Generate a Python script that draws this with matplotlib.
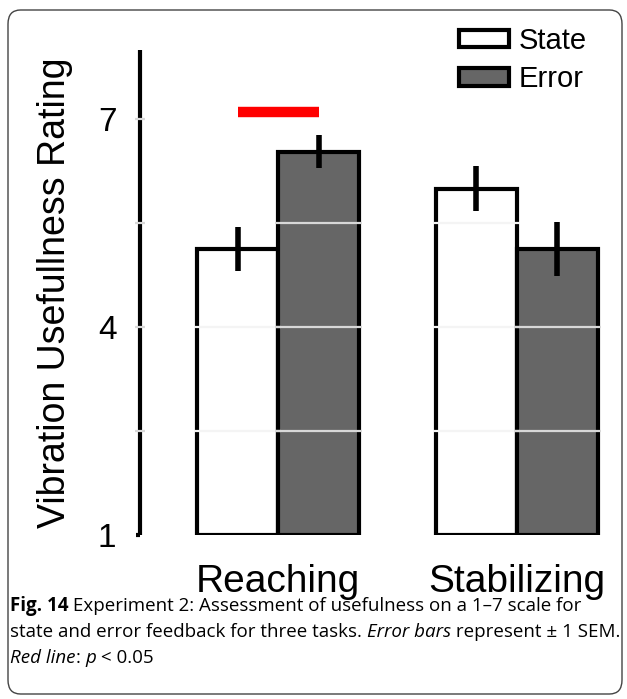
import matplotlib
matplotlib.use("Agg")
import matplotlib.pyplot as plt
from matplotlib.patches import Patch, FancyBboxPatch

# ratings per task (mean and SEM)
tasks = ["Reaching", "Stabilizing"]
state_mean = [5.13, 6.00]
state_sem = [0.32, 0.33]
error_mean = [6.53, 5.13]
error_sem = [0.24, 0.39]
grid_levels = [2.5, 4, 5.5, 7]
y_ticks = [1, 4, 7]
sig_level = 7.1  # red line over significant pairs
sig_tasks = [0]

plt.rcParams["font.family"] = ["Liberation Sans", "DejaVu Sans"]

fig = plt.figure(figsize=(6.27, 6.99), dpi=100)
W, H = 627, 699
ax = fig.add_axes([140 / W, (H - 535) / H, (612 - 140) / W, 485 / H])

width = 0.34
xs = list(range(len(tasks)))
xs_state = [x - width / 2 for x in xs]
xs_error = [x + width / 2 for x in xs]

ax.bar(xs_state, [m - 1 for m in state_mean], width, bottom=1,
       color="white", edgecolor="black", linewidth=3, zorder=2)
ax.bar(xs_error, [m - 1 for m in error_mean], width, bottom=1,
       color="#666666", edgecolor="black", linewidth=3, zorder=2)
ax.errorbar(xs_state, state_mean, yerr=state_sem, fmt="none",
            ecolor="black", elinewidth=4, capsize=0, zorder=3)
ax.errorbar(xs_error, error_mean, yerr=error_sem, fmt="none",
            ecolor="black", elinewidth=4, capsize=0, zorder=3)

for i in sig_tasks:
    ax.plot([xs_state[i], xs_error[i]], [sig_level, sig_level],
            color="#ff0000", linewidth=7.5, solid_capstyle="butt", zorder=3)

ax.set_xlim(-0.58, 1.40)
ax.set_ylim(1, 8)

# light grid lines: only show where they cross the axis line and the bars
grid_color = "#d8d8d8"
ax.hlines(grid_levels, -0.60, -0.56, colors=grid_color, linewidth=1.6,
          zorder=5, clip_on=False)
for xb, tops, col in [(xs_state, state_mean, "#f4f4f4"),
                      (xs_error, error_mean, grid_color)]:
    for x, top in zip(xb, tops):
        levels = [g for g in grid_levels if g < top]
        if levels:
            ax.hlines(levels, x - width / 2 - 0.012, x + width / 2 + 0.012,
                      colors=col, linewidth=1.6, zorder=5)

for s in ["top", "right", "bottom"]:
    ax.spines[s].set_visible(False)
ax.spines["left"].set_linewidth(3)
ax.spines["left"].set_capstyle("butt")
# small foot at the bottom of the axis line
ax.plot([-0.58, -0.595], [1, 1], color="black", linewidth=3,
        solid_capstyle="butt", clip_on=False, zorder=4)

ax.set_yticks(y_ticks)
ax.set_yticklabels([str(t) for t in y_ticks], fontsize=24)
ax.tick_params(axis="y", length=0, pad=17)

ax.set_xticks(xs)
ax.set_xticklabels(tasks, fontsize=28)
ax.tick_params(axis="x", length=0, pad=21)

ax.set_ylabel("Vibration Usefullness Rating", fontsize=27, labelpad=18)

handles = [Patch(facecolor="white", edgecolor="black", linewidth=3, label="State"),
           Patch(facecolor="#666666", edgecolor="black", linewidth=3, label="Error")]
ax.legend(handles=handles, loc="upper left", bbox_to_anchor=(459 / W, 1 - 27 / H),
          bbox_transform=fig.transFigure, frameon=False, fontsize=21,
          handlelength=1.7, handleheight=0.55, handletextpad=0.35,
          labelspacing=0.35, borderpad=0, borderaxespad=0)

# rounded frame around the figure panel
frame = FancyBboxPatch((8 / W, 5 / H), 614 / W, 684 / H,
                       boxstyle="round,pad=0,rounding_size=0.02",
                       transform=fig.transFigure, facecolor="none",
                       edgecolor="#444444", linewidth=1.0)
fig.patches.append(frame)

# caption with mixed styles
cap_font = ["Open Sans", "DejaVu Sans"]
cap_size = 13.5
lines = [
    [("Fig. 14", "bold", "normal"), (" Experiment 2: Assessment of usefulness on a 1\u20137 scale for", "normal", "normal")],
    [("state and error feedback for three tasks. ", "normal", "normal"), ("Error bars", "normal", "italic"),
     (" represent \u00b1 1 SEM.", "normal", "normal")],
    [("Red line", "normal", "italic"), (": ", "normal", "normal"), ("p", "normal", "italic"),
     (" < 0.05", "normal", "normal")],
]
baselines = [611, 637, 663]
renderer = fig.canvas.get_renderer()
for parts, yb in zip(lines, baselines):
    x = 10
    for txt, weight, style in parts:
        t = fig.text(x / W, 1 - yb / H, txt, family=cap_font, fontsize=cap_size,
                     fontweight=weight, fontstyle=style, va="baseline", ha="left")
        bb = t.get_window_extent(renderer=renderer)
        x = bb.x1

fig.savefig("out.png", dpi=100)
